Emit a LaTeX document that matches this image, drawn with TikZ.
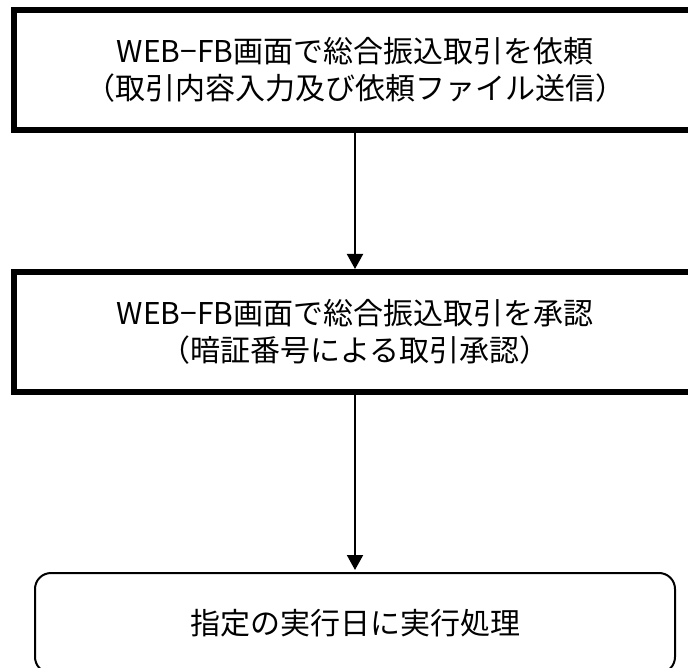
\documentclass[tikz,border=0pt]{standalone}
\usepackage{fontspec}
\setmainfont{Noto Sans CJK JP}
\usetikzlibrary{positioning,arrows.meta}

\begin{document}
\begin{tikzpicture}[
    x=1pt, y=-1pt,
    every node/.style={font=\fontsize{30}{37}\selectfont},
    box/.style={draw, line width=6pt, minimum width=682pt, minimum height=120pt, align=center, inner sep=0pt, outer sep=0pt},
    endbox/.style={draw, line width=2pt, rounded corners=16pt, minimum width=640pt, minimum height=100pt, align=center, inner sep=0pt, outer sep=0pt},
    flow/.style={-{Triangle[width=16pt,length=15pt]}, line width=2pt, shorten >=3pt}
]
\clip (0,0) rectangle (688,668);
% Nodes
\node[box] (request) at (355,70) {WEB−FB画面で総合振込取引を依頼\\（取引内容入力及び依頼ファイル送信）};
\node[box, below=142pt of request] (approve) {WEB−FB画面で総合振込取引を承認\\（暗証番号による取引承認）};
\node[endbox, below=181pt of approve] (execute) {指定の実行日に実行処理};

% Arrows
\draw[flow] (request) -- (approve);
\draw[flow] (approve) -- (execute);
\end{tikzpicture}
\end{document}
